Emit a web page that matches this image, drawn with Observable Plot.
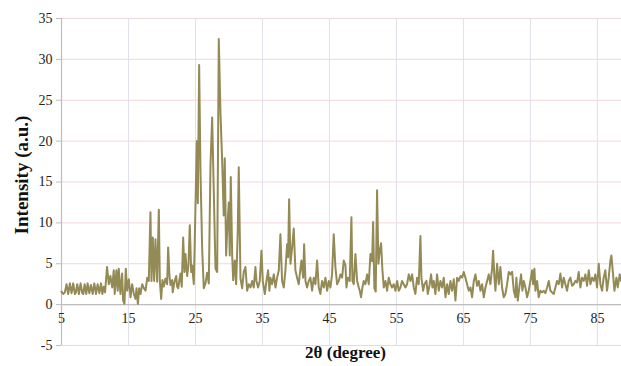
<!DOCTYPE html>
<html>
<head>
<meta charset="utf-8">
<script src="https://cdn.jsdelivr.net/npm/d3@7"></script>
<script src="https://cdn.jsdelivr.net/npm/@observablehq/plot@0.6"></script>
<style>
  html, body { margin: 0; padding: 0; background: #fff; }
</style>
</head>
<body>
<div id="chart"></div>
<script>
// [2θ (degree), intensity (a.u.)]
const lowAngle = [[5.0,1.6],[5.25,1.3],[5.5,1.5],[5.75,2.5],[6.0,1.3],[6.25,2.6],[6.5,1.4],[6.75,2.6],[7.0,1.3],[7.15,1.5],[7.35,2.5],[7.6,1.3],[7.85,2.6],[8.1,1.4],[8.25,1.3],[8.45,2.5],[8.7,1.3],[8.9,2.6],[9.15,1.4],[9.4,2.4],[9.65,1.3],[9.9,2.6],[10.15,1.3],[10.4,2.5],[10.65,1.4],[10.9,2.6],[11.1,1.3],[11.3,2.2],[11.5,1.5],[11.8,4.6],[12.06,2.5],[12.3,3.5],[12.57,2.1],[12.8,4.2],[12.95,1.3],[13.2,4.2],[13.4,1.7],[13.55,4.4],[13.8,1.3],[14.05,3.8],[14.2,0.5],[14.4,0.1],[14.6,4.4],[14.8,1.7],[15.05,3.1],[15.3,0.9],[15.55,2.5],[15.8,1.3],[16.05,0.7],[16.2,2.0],[16.4,0.1],[16.6,2.0],[16.8,1.3],[17.05,2.5],[17.3,2.0],[17.55,1.7],[17.8,3.3],[18.03,2.9]];
const mainPeaks = [[18.28,11.3],[18.43,2.9],[18.63,8.2],[18.83,2.9],[19.03,8.0],[19.28,2.8],[19.53,11.6],[19.68,2.9],[19.88,0.7],[20.07,3.0],[20.27,2.2],[20.52,3.2],[20.77,2.5],[20.92,7.0],[21.12,3.5],[21.27,2.4],[21.52,3.0],[21.6,1.5],[21.87,2.8],[22.12,3.5],[22.27,2.2],[22.42,2.0],[22.6,3.0],[22.76,3.8],[22.95,2.2],[23.16,8.2],[23.36,4.0],[23.5,6.2],[23.76,3.5],[23.95,4.8],[24.15,9.7],[24.36,4.0],[24.5,4.8],[24.75,2.5],[24.9,8.0],[25.05,14.0],[25.2,20.0],[25.35,12.4],[25.55,29.3],[25.75,16.2],[26.0,6.8],[26.24,2.0],[26.49,2.6],[26.75,3.9],[26.99,2.6],[27.24,17.0],[27.49,22.9],[27.73,14.0],[27.99,4.4],[28.24,4.0],[28.48,32.5],[28.73,23.5],[28.99,17.4],[29.22,10.9],[29.37,17.9],[29.58,6.0],[29.73,9.0],[29.97,12.5],[30.12,6.0],[30.27,15.6],[30.48,6.0],[30.63,3.0],[30.87,5.4],[31.07,2.5],[31.31,8.8],[31.46,16.8],[31.72,3.2],[31.97,2.0],[32.21,4.0]];
const midAngle = [[32.46,4.6],[32.71,1.7],[32.96,2.5],[33.21,2.1],[33.46,2.9],[33.7,2.1],[33.95,4.6],[34.1,2.9],[34.35,2.1],[34.6,2.9],[34.85,6.6],[35.05,2.9],[35.35,1.3],[35.6,2.9],[35.84,4.2],[36.04,1.7],[36.19,3.3],[36.44,2.5],[36.69,3.7],[36.94,2.1],[37.19,3.3],[37.44,4.2],[37.68,8.6],[37.93,2.9],[38.18,2.1],[38.43,4.2],[38.68,7.4],[38.83,5.8],[38.98,12.9],[39.18,5.0],[39.43,7.0],[39.67,9.3],[39.92,4.2],[40.17,3.3],[40.42,2.5],[40.57,3.7],[40.82,5.4],[41.07,3.3],[41.22,7.4],[41.42,2.9],[41.66,2.1],[41.91,2.9],[42.16,3.3],[42.41,1.7],[42.66,3.3],[42.91,2.5],[43.16,5.4],[43.4,2.1],[43.65,1.3],[43.9,2.9],[44.15,2.1],[44.4,3.3],[44.65,1.7],[44.9,2.9],[45.15,2.1],[45.39,3.7],[45.64,8.6],[45.89,4.6],[46.14,2.5],[46.39,2.9],[46.64,3.7],[46.89,3.3],[47.14,5.4],[47.39,4.8],[47.54,2.1],[47.73,3.3],[48.03,2.9],[48.28,10.7],[48.43,2.9],[48.63,2.5],[48.88,6.2],[49.13,2.9],[49.38,2.1],[49.53,1.7],[49.72,0.9],[49.92,2.1],[50.12,2.9],[50.37,2.5],[50.62,3.7],[50.87,2.5],[51.12,6.2],[51.37,5.3],[51.52,10.1],[51.71,2.0],[51.91,1.6],[52.11,14.0],[52.31,5.0],[52.51,6.6],[52.71,7.5],[52.91,4.2],[53.11,2.1],[53.36,2.9],[53.61,1.7],[53.85,3.3],[54.1,2.5],[54.35,2.1],[54.6,2.5],[54.85,1.7],[55.1,2.9],[55.35,1.7],[55.6,2.1],[55.84,2.9],[56.09,2.5],[56.34,2.1],[56.59,2.5],[56.84,3.7],[57.09,2.9],[57.34,3.7],[57.59,2.1],[57.83,1.3],[58.08,3.3],[58.33,2.5],[58.58,8.4],[58.73,3.3],[58.98,1.7],[59.18,2.5],[59.48,2.9],[59.68,1.3],[59.97,2.5],[60.17,3.7],[60.37,2.1],[60.57,2.9],[60.82,1.3],[61.07,3.7],[61.32,1.7]];
const highAngle = [[61.57,2.9],[61.82,2.1],[62.07,3.3],[62.32,0.9],[62.57,2.5],[62.81,1.3],[63.06,2.9],[63.31,1.7],[63.56,3.1],[63.81,0.5],[64.06,3.3],[64.31,2.9],[64.56,3.5],[64.8,3.3],[65.05,4.0],[65.3,3.3],[65.55,2.5],[65.8,1.7],[66.05,2.1],[66.3,0.9],[66.55,2.9],[66.8,3.7],[67.04,2.3],[67.29,2.9],[67.54,1.7],[67.79,2.5],[68.04,0.9],[68.29,2.1],[68.54,2.9],[68.78,3.7],[69.03,2.5],[69.28,4.4],[69.43,6.6],[69.63,3.3],[69.78,1.7],[70.03,5.0],[70.28,2.5],[70.52,4.6],[70.77,2.1],[71.02,0.9],[71.27,1.3],[71.52,2.5],[71.77,4.0],[72.02,3.7],[72.27,4.0],[72.52,1.7],[72.76,0.9],[72.91,3.3],[73.11,0.5],[73.41,2.5],[73.61,3.7],[73.81,1.7],[74.01,2.9],[74.26,2.1],[74.5,0.9],[74.75,1.7],[75.0,2.9],[75.25,4.2],[75.4,2.5],[75.6,4.4],[75.75,1.7],[76.0,2.9],[76.24,0.9],[76.49,1.7],[76.74,1.5],[76.99,1.7],[77.24,1.4],[77.49,2.1],[77.74,2.9],[77.99,1.7],[78.23,1.5],[78.48,1.3],[78.73,2.1],[78.98,2.9],[79.23,2.5],[79.48,3.8],[79.73,2.1],[79.98,3.3],[80.22,2.5],[80.47,1.7],[80.72,2.9],[80.97,3.3],[81.22,2.3],[81.47,2.5],[81.72,2.9],[81.97,2.7],[82.21,4.0],[82.46,2.1],[82.71,3.3],[82.96,2.9],[83.21,3.7],[83.46,2.3],[83.71,4.2],[83.96,2.5],[84.2,3.3],[84.45,2.9],[84.7,3.7],[84.95,2.1],[85.2,5.0],[85.45,2.5],[85.7,1.7],[85.94,3.3],[86.19,4.2],[86.44,1.7],[86.69,3.3],[86.94,5.4],[87.09,6.0],[87.34,3.7],[87.54,1.7],[87.84,3.3],[88.04,2.1],[88.33,3.7],[88.53,2.9]];

const xTicks = [5, 15, 25, 35, 45, 55, 65, 75, 85];
const yTicks = [-5, 0, 5, 10, 15, 20, 25, 30, 35];
const xTitle = "2θ (degree)";
const yTitle = "Intensity (a.u.)";

const pattern = [...lowAngle, ...mainPeaks, ...midAngle, ...highAngle];

const chart = Plot.plot({
  width: 621,
  height: 366,
  marginLeft: 61,
  marginRight: 0,
  marginTop: 18,
  marginBottom: 21,
  style: { fontFamily: "'Liberation Serif', 'Times New Roman', serif", fontSize: "14px", color: "#222", background: "#fff" },
  x: { domain: [5, 88.6], axis: null },
  y: { domain: [-5, 35], axis: null },
  marks: [
    Plot.ruleY(yTicks, { stroke: "#f2d6dd", strokeWidth: 1 }),
    Plot.ruleX(xTicks, { stroke: "#e2e0e8", strokeWidth: 1 }),
    Plot.ruleY([0], { stroke: "#bdbdbd", strokeWidth: 1.2 }),
    Plot.ruleX([5], { stroke: "#bdbdbd", strokeWidth: 1.2 }),
    Plot.axisY(yTicks, { tickSize: 5, tickPadding: 4, stroke: "#bdbdbd", fill: "#222", label: null, tickFormat: d => String(d), fontSize: 14 }),
    Plot.text(xTicks, { x: d => d, y: d => 0, dy: 14, text: d => String(d), fill: "#222", fontSize: 14 }),
    Plot.line(pattern, { x: d => d[0], y: d => d[1], stroke: "#938a55", strokeWidth: 2, strokeLinejoin: "round" }),
    Plot.text([yTitle], { frameAnchor: "left", textAnchor: "middle", dx: -40, dy: -7, rotate: -90, fontWeight: "bold", fontSize: 19, fill: "#111" }),
    Plot.text([xTitle], { frameAnchor: "bottom", dx: 4, dy: 12, fontWeight: "bold", fontSize: 17, fill: "#111" })
  ]
});
document.getElementById("chart").appendChild(chart);
</script>
</body>
</html>
